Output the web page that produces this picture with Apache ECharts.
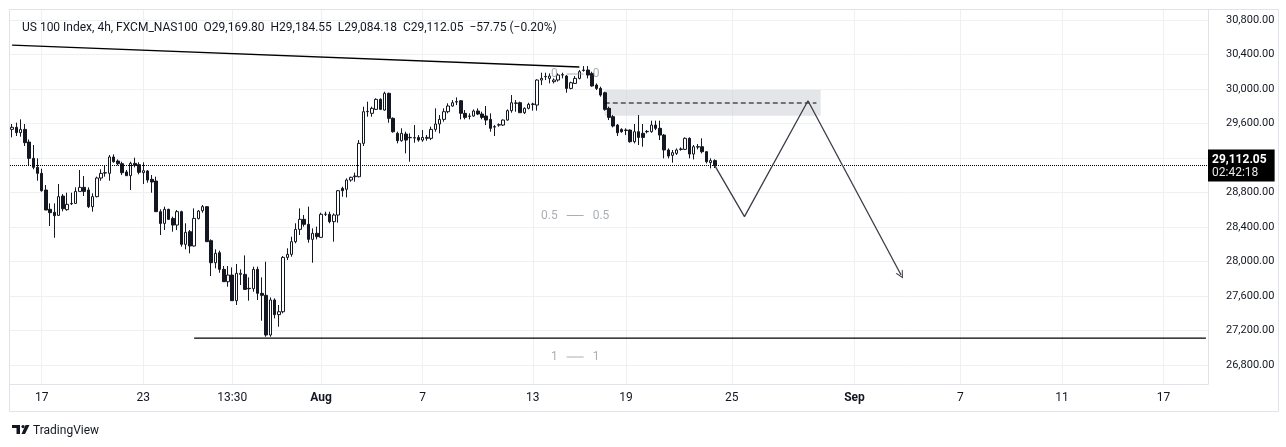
<!DOCTYPE html>
<html>
<head>
<meta charset="utf-8">
<script src="https://cdn.jsdelivr.net/npm/echarts@6.0.0/dist/echarts.min.js"></script>
<style>
  html, body { margin: 0; padding: 0; background: #fff; }
  #chart { width: 1286px; height: 447px; }
</style>
</head>
<body>
<div id="chart"></div>
<script>
// 4h candles
const opens = [
  29532,29556,29494,29532,29385,29196,29092,29022,28829,28605,
  28570,28535,28759,28601,28674,28674,28813,28860,28829,28636,
  28752,28968,29026,29022,29212,29165,29134,29038,28995,29138,
  29123,29030,29049,28953,28933,28578,28442,28605,28500,28423,
  28578,28199,28346,28180,28497,28589,28636,28242,27986,28102,
  27909,27766,27843,27546,27851,27851,27689,27685,27909,27631,
  27608,27148,27554,27384,27418,28048,28083,28230,28373,28489,
  28431,28257,28327,28280,28547,28547,28462,28539,28848,28837,
  28945,28983,28983,29370,29737,29718,29764,29880,29756,29950,
  29660,29486,29401,29478,29435,29435,29439,29408,29428,29428,
  29532,29594,29648,29737,29803,29853,29864,29718,29687,29687,
  29745,29710,29687,29648,29563,29582,29582,29640,29749,29834,
  29841,29725,29776,29822,29814,30104,30143,30123,30085,30104,
  30162,30150,30007,30065,30123,30220,30220,30181,30046,30007,
  29957,29776,29679,29582,29532,29524,29524,29389,29505,29486,
  29505,29505,29582,29544,29466,29293,29231,29254,29300,29300,
  29428,29246,29331,29331,29273,29146,29169.80
];
const closes = [
  29556,29494,29532,29378,29196,29092,29022,28821,28597,28566,
  28531,28752,28612,28663,28670,28813,28860,28813,28636,28752,
  28968,29022,29030,29212,29157,29134,29030,28995,29138,29115,
  29034,29053,28945,28922,28578,28442,28605,28489,28423,28578,
  28199,28338,28180,28500,28585,28636,28230,27986,28095,27909,
  27766,27843,27546,27863,27863,27677,27685,27909,27631,27608,
  27148,27554,27384,27418,28048,28083,28230,28373,28489,28431,
  28257,28327,28288,28547,28549,28462,28539,28821,28821,28945,
  28976,28991,29370,29737,29741,29776,29880,29764,29950,29660,
  29505,29401,29486,29408,29439,29432,29408,29439,29439,29532,
  29594,29648,29737,29803,29841,29849,29718,29671,29683,29745,
  29710,29671,29640,29544,29559,29586,29640,29749,29841,29838,
  29725,29776,29822,29826,30104,30123,30146,30150,30104,30162,
  30166,30007,30073,30123,30201,30216,30162,30035,30007,29930,
  29764,29671,29571,29493,29505,29520,29389,29505,29439,29439,
  29509,29582,29544,29466,29293,29223,29262,29293,29304,29428,
  29246,29331,29327,29273,29157,29169.80,29112.05
];
const lows = [
  29440,29455,29447,29339,29107,29069,28937,28810,28597,28412,
  28276,28527,28582,28589,28655,28667,28813,28759,28620,28578,
  28744,28937,28984,28937,29146,29115,29003,28991,28829,29092,
  29011,28898,28914,28798,28578,28307,28365,28481,28346,28365,
  28172,28141,28095,28172,28489,28566,28230,27832,27921,27870,
  27766,27708,27546,27496,27728,27670,27546,27650,27554,27314,
  27128,27128,27341,27244,27399,28017,28056,28211,28307,28404,
  28218,27986,28257,28280,28527,28443,28230,28450,28751,28744,
  28925,28925,28976,29339,29679,29679,29756,29756,29749,29609,
  29493,29370,29389,29254,29157,29377,29389,29389,29401,29408,
  29505,29486,29621,29718,29795,29814,29648,29648,29648,29679,
  29698,29648,29582,29505,29455,29563,29571,29633,29725,29737,
  29725,29710,29764,29749,29749,30046,30104,30065,30065,30085,
  30123,29957,29996,30058,30112,30201,30123,30027,29988,29911,
  29749,29640,29555,29455,29493,29466,29378,29370,29351,29331,
  29486,29493,29523,29408,29196,29196,29146,29235,29285,29293,
  29196,29184,29300,29254,29138,29080,29084.18
];
const highs = [
  29594,29610,29648,29594,29416,29351,29196,29076,28887,28674,
  28674,28898,28782,28798,28798,28860,29061,28991,28860,28790,
  28984,29069,29119,29235,29242,29184,29157,29061,29157,29204,
  29150,29150,29061,29003,28984,28605,28636,28612,28520,28597,
  28589,28443,28365,28616,28597,28655,28643,28257,28141,28126,
  27948,27948,27932,27971,27909,28071,27816,27940,27940,27816,
  27998,27584,27573,27496,28064,28153,28288,28443,28616,28539,
  28636,28384,28404,28566,28578,28578,28558,28829,28867,28964,
  28983,29030,29408,29795,29853,29795,29892,29892,29969,29957,
  29671,29505,29544,29505,29486,29582,29466,29524,29466,29563,
  29776,29698,29776,29834,29872,29903,29872,29756,29718,29764,
  29776,29737,29803,29718,29582,29602,29648,29764,29930,29872,
  29853,29787,29841,29841,30112,30189,30189,30181,30123,30181,
  30189,30162,30085,30150,30220,30266,30266,30201,30065,30027,
  29969,29795,29698,29594,29544,29544,29532,29594,29698,29594,
  29524,29633,29633,29633,29478,29312,29293,29312,29323,29439,
  29439,29351,29362,29428,29281,29196,29184.55
];

// time scale: bar slots incl. empty future space
const slotCount = 283;
const tickIdx = [7, 31, 52, 73, 97, 123, 145, 170, 199, 224, 248, 272];
const tickText = ['17', '23', '13:30', 'Aug', '7', '13', '19', '25', 'Sep', '7', '11', '17'];
const monthTicks = ['Aug', 'Sep'];

// price scale
const priceTicks = [26800, 27200, 27600, 28000, 28400, 28800, 29200, 29600, 30000, 30400, 30800];
const yMin = 26580;
const yMax = 30916;
const countdown = '02:42:18';

// drawings [slot, price]
const trendLine = [[0, 30508], [134, 30255]];
const supportLine = [[43, 27113], [282, 27113]];
const zoneBox = [[140, 29988], [191, 29690]];
const zoneMid = [[140, 29838], [190, 29838]];
const projection = [[166, 29112], [173, 28520], [188, 29864], [210, 27843]];
const fibLevels = [0, 0.5, 1];
const fibTop = 30174;
const fibBottom = 26893;
const fibSlot = 133;

const INK = '#131722';
const LINE = '#000000';
const GRID = '#eef0f4';
const BORDER = '#e0e3eb';
const FIB = '#9598a1';

const fmt = v => v.toLocaleString('en-US', {minimumFractionDigits: 2, maximumFractionDigits: 2});
const last = closes.length - 1;
const lastPrice = closes[last];
const change = closes[last] - closes[last - 1];
const changePct = change / closes[last - 1] * 100;
const minus = v => (v < 0 ? '\u2212' : '+') + Math.abs(v).toFixed(2);

const header = 'US 100 Index, 4h, FXCM_NAS100  ' +
  'O' + fmt(opens[last]) + '  H' + fmt(highs[last]) + '  L' + fmt(lows[last]) +
  '  C' + fmt(closes[last]) + '  ' + minus(change) + ' (' + minus(changePct) + '%)';

const slots = Array.from({length: slotCount}, (_, i) => String(i));
const candles = opens.map((o, i) => [o, closes[i], lows[i], highs[i]]);
const isTick = i => tickIdx.indexOf(i) !== -1;

// open chevron pointing up, rotated by markLine along the segment
const chevron = 'path://M0,10 L5,0 L10,10 L8.6,10 L5,2.8 L1.4,10 Z';

const chart = echarts.init(document.getElementById('chart'), null, {renderer: 'canvas'});

chart.setOption({
  animation: false,
  backgroundColor: '#ffffff',
  textStyle: {fontFamily: 'Roboto, sans-serif'},
  title: {
    text: header,
    left: 17,
    top: 17,
    textStyle: {fontSize: 12, fontWeight: 'normal', color: INK, fontFamily: 'Roboto, sans-serif'}
  },
  grid: {left: 10, right: 78, top: 10, bottom: 63},
  xAxis: {
    type: 'category',
    data: slots,
    boundaryGap: true,
    axisLine: {show: true, lineStyle: {color: BORDER}},
    axisTick: {show: false},
    axisLabel: {
      interval: (i) => isTick(i),
      margin: 8,
      color: INK,
      fontSize: 12,
      formatter: (v) => {
        const t = tickText[tickIdx.indexOf(Number(v))];
        return monthTicks.indexOf(t) !== -1 ? '{b|' + t + '}' : t;
      },
      rich: {b: {fontWeight: 'bold', color: INK, fontSize: 12}}
    },
    splitLine: {
      show: true,
      alignWithLabel: true,
      interval: (i) => isTick(i),
      lineStyle: {color: GRID}
    }
  },
  yAxis: {
    type: 'value',
    position: 'right',
    min: yMin,
    max: yMax,
    scale: true,
    axisLine: {show: true, lineStyle: {color: BORDER}},
    axisTick: {show: false, customValues: priceTicks},
    axisLabel: {
      customValues: priceTicks,
      margin: 18,
      color: INK,
      fontSize: 11,
      formatter: v => fmt(v)
    },
    splitLine: {show: true, lineStyle: {color: GRID}}
  },
  series: [
    {
      name: 'US100',
      type: 'candlestick',
      data: candles,
      barWidth: 3,
      itemStyle: {
        color: '#ffffff',
        color0: INK,
        borderColor: INK,
        borderColor0: INK,
        borderWidth: 1
      },
      markArea: {
        silent: true,
        itemStyle: {color: 'rgba(200,203,212,0.5)'},
        data: [[{coord: zoneBox[0]}, {coord: zoneBox[1]}]]
      },
      markLine: {
        silent: true,
        symbol: 'none',
        lineStyle: {type: 'dotted', color: LINE, width: 1},
        label: {
          show: true,
          position: 'end',
          distance: 0,
          backgroundColor: '#000000',
          padding: [3, 8, 2, 4],
          formatter: () => '{p|' + fmt(lastPrice) + '}\n{t|' + countdown + '}',
          rich: {
            p: {color: '#ffffff', fontWeight: 'bold', fontSize: 12, lineHeight: 14},
            t: {color: '#e6e7ea', fontSize: 12, lineHeight: 13}
          }
        },
        data: [{yAxis: lastPrice}]
      },
      z: 3
    },
    {
      name: 'trend',
      type: 'line',
      data: trendLine,
      symbol: 'none',
      lineStyle: {color: LINE, width: 1.3},
      z: 4
    },
    {
      name: 'support',
      type: 'line',
      data: supportLine,
      symbol: 'none',
      lineStyle: {color: LINE, width: 1.3},
      z: 4
    },
    {
      name: 'zoneMid',
      type: 'line',
      data: zoneMid,
      symbol: 'none',
      lineStyle: {color: LINE, width: 1.2, type: [5, 3]},
      z: 4
    },
    {
      name: 'projection',
      type: 'line',
      data: projection.slice(0, 3),
      symbol: 'none',
      lineStyle: {color: '#3a3d47', width: 1.3},
      markLine: {
        silent: true,
        symbol: ['none', chevron],
        symbolSize: [8, 8],
        lineStyle: {color: '#3a3d47', width: 1.3, type: 'solid'},
        label: {show: false},
        data: [[{coord: projection[2]}, {coord: projection[3]}]]
      },
      z: 4
    },
    {
      name: 'fib',
      type: 'scatter',
      symbolSize: 0,
      data: fibLevels.map(l => [fibSlot, fibTop + (fibBottom - fibTop) * l, l]),
      label: {
        show: true,
        position: 'inside',
        formatter: p => {
          const v = p.value[2];
          return '{t|' + v + '}{s|}{d|}{s|}{t|' + v + '}';
        },
        rich: {
          t: {color: FIB, fontSize: 12},
          s: {width: 9},
          d: {width: 17, height: 1, backgroundColor: FIB}
        }
      },
      z: 5
    }
  ],
  graphic: [
    {
      type: 'rect',
      silent: true,
      shape: {x: 9.5, y: 9.5, width: 1269, height: 402},
      style: {fill: 'none', stroke: BORDER, lineWidth: 1},
      z: 0
    },
    {
      type: 'group',
      left: 12,
      top: 425,
      children: [
        {type: 'rect', shape: {x: 0, y: 0, width: 8, height: 3}, style: {fill: INK}},
        {type: 'rect', shape: {x: 4.5, y: 0, width: 3.5, height: 9}, style: {fill: INK}},
        {type: 'circle', shape: {cx: 11, cy: 1.6, r: 1.6}, style: {fill: INK}},
        {type: 'polygon', shape: {points: [[13.5, 0], [17.5, 0], [13, 9], [9.5, 9]]}, style: {fill: INK}},
        {type: 'text', x: 21, y: 0, style: {text: 'TradingView', fill: INK, font: '12px Roboto, sans-serif'}}
      ]
    }
  ]
});
</script>
</body>
</html>
